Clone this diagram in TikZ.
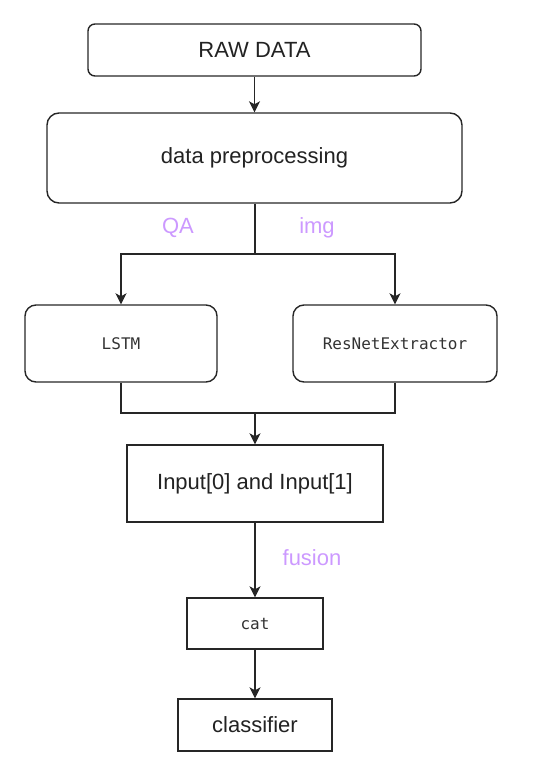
\documentclass[tikz,border=0pt]{standalone}
\usepackage{fontspec}
\setmainfont{Liberation Sans}
\newfontfamily\monofnt{DejaVu Sans Mono}
\usetikzlibrary{arrows.meta}
\definecolor{lav}{HTML}{CC99FF}
\definecolor{txt}{HTML}{222222}
\tikzset{
  box/.style={draw=black!85, line width=1.4pt, inner sep=0pt, text=txt, font=\fontsize{22}{25}\selectfont, align=center},
  rbox/.style={box, rounded corners=#1},
  mono/.style={font=\monofnt\fontsize{16}{19}\selectfont, text=black!80},
  conn/.style={draw=black!85, line width=1.4pt, -{Stealth[length=11pt, width=11pt, inset=3pt]}},
  plain/.style={draw=black!85, line width=1.4pt},
  lbl/.style={text=lav, font=\fontsize{22}{25}\selectfont, inner sep=0pt}
}
\begin{document}
\begin{tikzpicture}[x=1pt, y=-1pt]
\useasboundingbox (0,0) rectangle (548,773);
\node[rbox=7pt, minimum width=333pt, minimum height=52pt] (raw) at (254.5,50) {RAW DATA};
\node[rbox=12pt, minimum width=415pt, minimum height=90pt] (prep) at (254.5,158) {data preprocessing};
\node[rbox=11pt, mono, minimum width=192pt, minimum height=77pt] (lstm) at (121,343.5) {LSTM};
\node[rbox=11pt, mono, minimum width=204pt, minimum height=77pt] (res) at (395,343.5) {ResNetExtractor};
\node[box, minimum width=256pt, minimum height=77pt] (inp) at (255,483.5) {Input[0] and Input[1]};
\node[box, mono, minimum width=136pt, minimum height=51pt] (cat) at (255,623.5) {cat};
\node[box, minimum width=154pt, minimum height=52pt] (cls) at (255,725) {classifier};
\node[lbl] (qa) at (178,228) {QA};
\node[lbl] (img) at (317,228) {img};
\node[lbl] (fus) at (312,558) {fusion};
\coordinate (split) at (255,254);
\coordinate (merge) at (255,413);
\draw[conn] (raw.south) -- (raw.south |- prep.north);
\draw[plain] (prep.south -| split) -- (split);
\draw[conn] (split) -| (lstm.north);
\draw[conn] (split) -| (res.north);
\draw[plain] (lstm.south) |- (merge);
\draw[plain] (res.south) |- (merge);
\draw[conn] (merge) -- (inp.north);
\draw[conn] (inp.south) -- (cat.north);
\draw[conn] (cat.south) -- (cls.north);
\end{tikzpicture}
\end{document}
